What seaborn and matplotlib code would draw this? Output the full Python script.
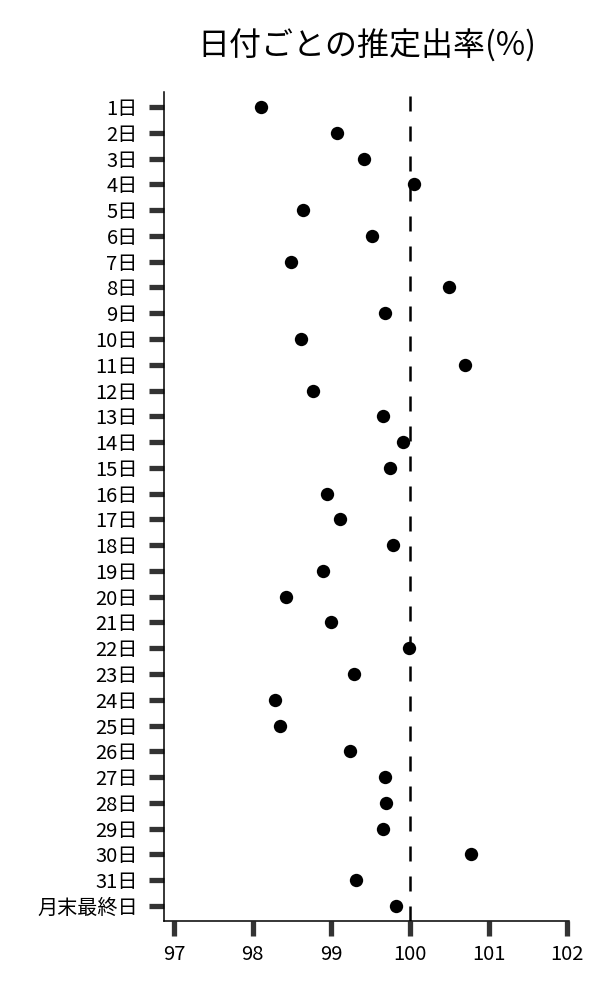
import seaborn as sns
import matplotlib.pyplot as plt

# 日付ラベルと推定出率
days = [f"{i}日" for i in range(1, 32)] + ["月末最終日"]
rates = [98.11, 99.07, 99.42, 100.05, 98.64, 99.52, 98.49, 100.49, 99.68, 98.62,
         100.70, 98.77, 99.66, 99.91, 99.74, 98.95, 99.11, 99.78, 98.90, 98.43,
         98.99, 99.99, 99.29, 98.28, 98.35, 99.24, 99.68, 99.70, 99.66, 100.77,
         99.32, 99.82]
x_ticks = [97, 98, 99, 100, 101, 102]
ref_line = 100

sns.set_style("white")
plt.rcParams['font.family'] = ['Noto Sans CJK JP', 'DejaVu Sans']

fig = plt.figure(figsize=(6, 10), dpi=100)
ax = fig.add_axes([0.2733, 0.079, 0.675, 0.829])

sns.stripplot(x=rates, y=days, order=days, jitter=False, color='black',
              size=9.6, linewidth=0, orient='h', ax=ax)

# 100% reference line
ax.axvline(ref_line, color='black', linewidth=1.8, dashes=(6, 6), zorder=1)

ax.set_xlim(96.874, 102.02)
ax.set_ylim(len(days) - 1 + 0.58, -0.58)
ax.set_xticks(x_ticks)
ax.set_xticklabels([str(t) for t in x_ticks])

for side in ['top', 'right']:
    ax.spines[side].set_visible(False)
for side in ['left', 'bottom']:
    ax.spines[side].set_color('black')
    ax.spines[side].set_linewidth(1.1)

ax.tick_params(axis='both', which='major', left=True, bottom=True,
               length=10.8, width=3.8, color='#333333',
               labelsize=14.5, labelcolor='black')
ax.tick_params(axis='y', pad=8)
ax.tick_params(axis='x', pad=6)

ax.set_xlabel('')
ax.set_ylabel('')
ax.set_title('日付ごとの推定出率(%)', fontsize=23, pad=26, color='black')

fig.savefig('out.png', dpi=100)
